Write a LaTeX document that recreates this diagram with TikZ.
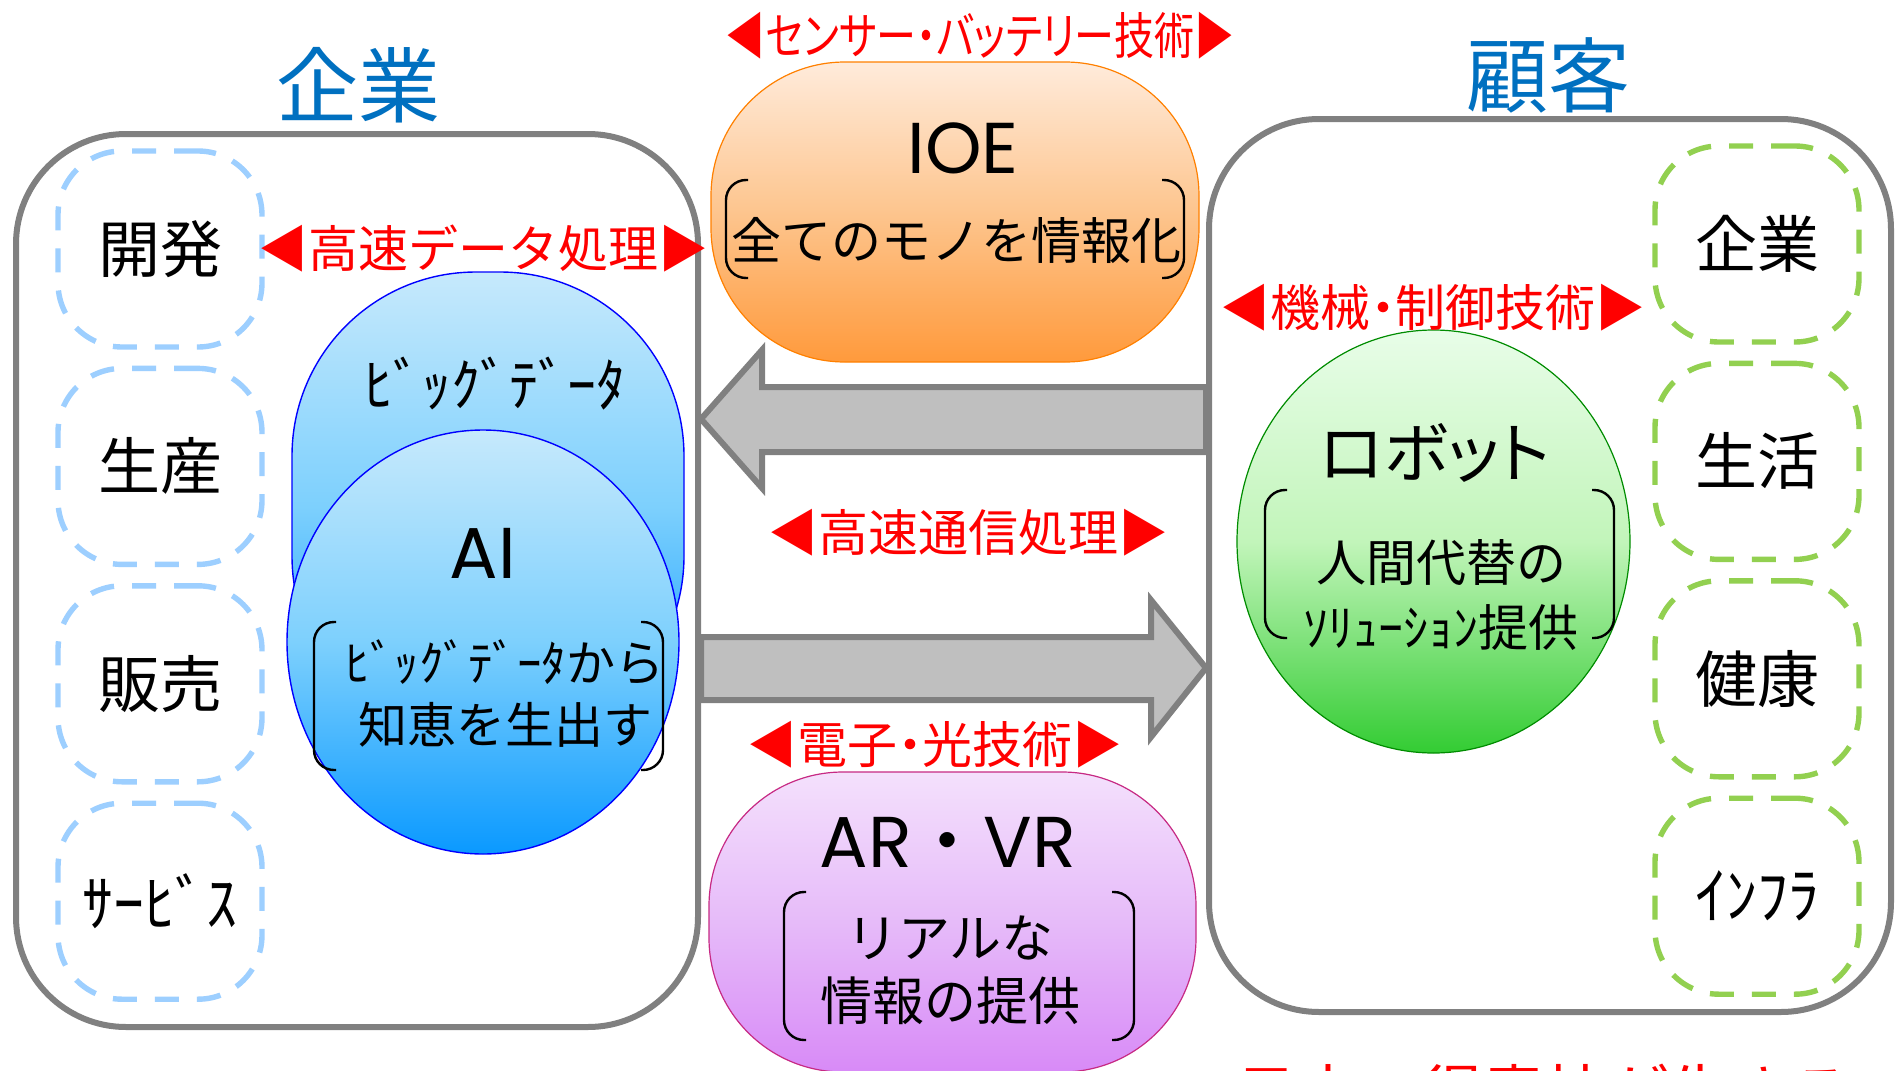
\documentclass[tikz,border=0pt]{standalone}
\usepackage{fontspec}
\setmainfont{Noto Sans CJK JP}
\newfontfamily\latinfont{Poppins}
\newfontfamily\paltfont[RawFeature=+palt]{Noto Sans CJK JP}
\newfontfamily\narrowfont[RawFeature=+palt, FakeStretch=0.8]{Noto Sans CJK JP}
\usetikzlibrary{positioning,shapes.geometric}

\definecolor{titleblue}{HTML}{0070C0}
\definecolor{panelgray}{HTML}{808080}
\definecolor{arrowgray}{HTML}{BFBFBF}
\definecolor{itemblue}{HTML}{9DCFFF}
\definecolor{itemgreen}{HTML}{92D050}
\definecolor{techred}{HTML}{FF0000}
\definecolor{bluetop}{HTML}{C6E9FC}
\definecolor{bluemid}{HTML}{7DD0FD}
\definecolor{bluebot}{HTML}{0A99FF}
\definecolor{greentop}{HTML}{E8FDE8}
\definecolor{greenmid}{HTML}{C2F5BA}
\definecolor{greenbot}{HTML}{33CC33}
\definecolor{orangetop}{HTML}{FFEBDB}
\definecolor{orangemid}{HTML}{FDC58E}
\definecolor{orangebot}{HTML}{FF9A3C}
\definecolor{violettop}{HTML}{F4E0FC}
\definecolor{violetmid}{HTML}{E6BBF9}
\definecolor{violetbot}{HTML}{D88AF7}

\tikzset{
    heading/.style={text=titleblue, font=\fontsize{41}{41}\selectfont},
    panel/.style={draw=panelgray, line width=3pt, rounded corners=55pt,
        minimum width=341pt, minimum height=446.5pt},
    field/.style={dash pattern=on 12pt off 9pt, line width=2.7pt, rounded corners=32pt,
        minimum width=102pt, minimum height=98pt, font=\fontsize{31}{31}\selectfont},
    fieldblue/.style={field, draw=itemblue},
    fieldgreen/.style={field, draw=itemgreen},
    tech/.style={text=techred, font=\fontsize{25}{25}\selectfont},
    kakko/.style={line width=1.2pt, rounded corners=10pt},
    blockarrow/.style={draw=panelgray, fill=arrowgray, line width=3pt},
    latinbig/.style={font=\fontsize{36}{36}\latinfont},
    subtext/.style={align=center, font=\fontsize{24.5}{31}\selectfont},
    bluebody/.style={draw=blue, line width=0.7pt, top color=bluetop,
        bottom color=bluebot, middle color=bluemid},
}

\begin{document}
\begin{tikzpicture}[x=0.5pt, y=-0.5pt]
    % Page
    \useasboundingbox (0,0) rectangle (1897,1071);
    \fill[white] (0,0) rectangle (1897,1071);

    % Panels
    \node[heading] (kigyo title) at (358,85) {企業};
    \node[heading] (kokyaku title) at (1548,75) {顧客};
    \node[panel] (kigyo) at (357,580.5) {};
    \node[panel] (kokyaku) at (1550,565.5) {};

    % Fields
    \node[fieldblue] (dev) at (160,249) {開発};
    \node[fieldblue, below=8pt of dev] (prod) {生産};
    \node[fieldblue, below=8pt of prod] (sales) {販売};
    \node[fieldblue, below=8pt of sales] (serv) {ｻｰﾋﾞｽ};
    \node[fieldgreen] (corp) at (1757,244) {企業};
    \node[fieldgreen, below=8pt of corp] (life) {生活};
    \node[fieldgreen, below=8pt of life] (health) {健康};
    \node[fieldgreen, below=8pt of health] (infra) {ｲﾝﾌﾗ};

    % Arrows
    \draw[blockarrow] (kokyaku.west |- 0,387) -- (762,387) -- (762,350) -- (kigyo.east |- 0,419)
        -- (762,488) -- (762,452) -- (kokyaku.west |- 0,452) -- cycle;
    \draw[blockarrow] (kigyo.east |- 0,637) -- (1151,637) -- (1151,600) -- (kokyaku.west |- 0,668)
        -- (1151,737) -- (1151,700) -- (kigyo.east |- 0,700) -- cycle;

    % Bodies
    \node[bluebody, rounded corners=92pt, minimum width=196pt, minimum height=234pt] (bigdata) at (488,506) {};
    \node[bluebody, ellipse, minimum width=196pt, minimum height=212pt] (ai) at (483,642) {};
    \node[ellipse, draw=green!55!black, line width=0.6pt, top color=greentop, bottom color=greenbot,
        middle color=greenmid, minimum width=196.5pt, minimum height=211.5pt] (robot) at (1433.5,541.5) {};
    \node[draw=orange, line width=0.6pt, rounded corners=67pt, top color=orangetop, bottom color=orangebot,
        middle color=orangemid, minimum width=244pt, minimum height=150pt] (ioe) at (955,212) {};
    \node[draw=magenta!80!black, line width=0.6pt, rounded corners=67pt, top color=violettop,
        bottom color=violetbot, middle color=violetmid,
        minimum width=243.5pt, minimum height=150pt] (vr) at (952.5,922) {};

    % Brackets
    \foreach \xl/\xr/\yt/\yb in {726/1184/180/278, 314/663/622/770, 1265/1614/490/638, 784/1134/892/1040} {
        \draw[kakko] (\xl+22,\yt) -- (\xl,\yt) -- (\xl,\yb) -- (\xl+22,\yb);
        \draw[kakko] (\xr-22,\yt) -- (\xr,\yt) -- (\xr,\yb) -- (\xr-22,\yb);
    }

    % Labels
    \node[font=\fontsize{29}{29}\selectfont] (bigdata label) at (495,384) {ﾋﾞｯｸﾞﾃﾞｰﾀ};
    \node[latinbig] (ai label) at (483,553) {AI};
    \node[subtext] (ai text) at (505,694) {ﾋﾞｯｸﾞﾃﾞｰﾀから\\知恵を生出す};
    \node[font=\fontsize{33}{33}\paltfont] (robot label) at (1435,453) {ロボット};
    \node[subtext, font=\fontsize{25}{32.5}\selectfont] (robot text) at (1441,595) {人間代替の\\ｿﾘｭｰｼｮﾝ提供};
    \node[latinbig] (ioe label) at (963,148) {IOE};
    \node[subtext, font=\fontsize{25}{25}\selectfont] (ioe text) at (956,240) {全てのモノを情報化};
    \node[latinbig] (vr label) at (948,842) {AR{\normalfont ・}VR};
    \node[subtext, font=\fontsize{26}{31.5}\selectfont] (vr text) at (950,970) {リアルな\\情報の提供};

    % Technologies
    \node[tech, font=\fontsize{25}{25}\narrowfont] (sensor) at (980,36) {◀センサー・バッテリー技術▶};
    \node[tech] (fastdata) at (483,249) {◀高速データ処理▶};
    \node[tech] (mech) at (1433,308) {◀機械{\paltfont ・}制御技術▶};
    \node[tech] (comm) at (968,533) {◀高速通信処理▶};
    \node[tech] (elec) at (935,745) {◀電子{\paltfont ・}光技術▶};
    \node[tech, font=\fontsize{31}{31}\selectfont, anchor=base west] (note) at (1228,1116) {日本の得意技が生きる};
\end{tikzpicture}
\end{document}
